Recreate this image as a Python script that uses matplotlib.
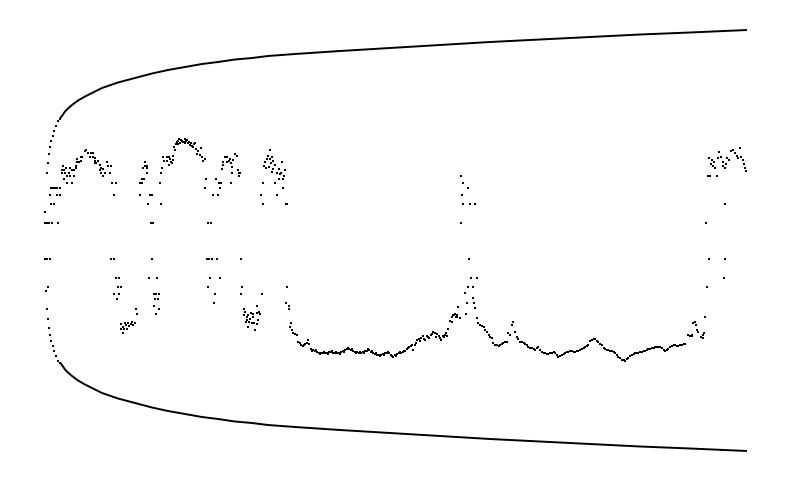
import matplotlib
matplotlib.use("Agg")
import matplotlib.pyplot as plt
import numpy as np

# ---- data: (step, value) readings of the test statistic ----
seg_start = [(45, 28), (45, 17), (47, 17), (49, 17), (52, 17), (58, 17), (45, -19), (47, -19), (50, -19),
             (48, -47), (46, -51), (51, 52), (53, 52), (55, 52), (57, 52), (60, 52), (50, 45), (57, 45),
             (60, 45), (51, 36), (54, 36)]

seg_hump1 = [(63, 74), (62, 70), (64, 70), (62, 67), (65, 67), (69, 67), (64, 61), (67, 64), (70, 64), (74, 64),
             (67, 57), (72, 57), (66, 72), (70, 72), (72, 70), (74, 70), (76, 74), (77, 78), (79, 78), (76, 72),
             (77, 81), (81, 83), (82, 83), (85, 89), (86, 90), (88, 87), (91, 87), (93, 87), (90, 83), (93, 83),
             (95, 82), (81, 79), (95, 79), (95, 77), (96, 77), (98, 79), (100, 75), (101, 72), (103, 71),
             (101, 67), (105, 67), (107, 78), (108, 74), (111, 74), (110, 67), (103, 64), (100, 70), (112, 57),
             (116, 57), (114, 45), (111, -19), (114, -19), (116, -38), (119, -38), (118, -47), (121, -47),
             (114, -54), (119, -54), (117, -59), (121, -84), (123, -87), (125, -83), (128, -83), (131, -84),
             (133, -85), (135, -83), (121, -89), (127, -89), (123, -93), (126, -85), (129, -86), (132, -82),
             (124, -89), (136, -69), (137, -74)]

seg_hump2 = [(140, 57), (142, 57), (142, 61), (144, 61), (143, 72), (147, 72), (145, 74), (147, 74), (145, 78),
             (147, 67), (140, 45), (150, 45), (152, 45), (148, 36), (161, 36), (151, 17), (153, 17), (152, -19),
             (149, -38), (157, -38), (154, -54), (156, -54), (159, -54), (155, -59), (158, -59), (154, -66),
             (159, -69), (156, -74), (160, 57), (161, 67), (162, 72), (163, 83), (167, 83), (169, 83), (170, 81),
             (164, 79), (167, 79), (171, 78), (172, 77), (169, 75), (173, 80), (173, 84), (174, 93), (175, 90),
             (177, 98), (180, 97), (182, 99), (184, 98), (187, 100), (188, 97), (190, 95), (192, 94), (194, 96),
             (195, 97), (176, 96), (178, 99), (179, 101), (181, 100), (183, 98), (185, 101), (186, 99), (189, 98),
             (191, 97), (193, 93), (178, 96), (185, 97), (196, 91), (198, 89), (201, 92), (197, 86), (200, 85),
             (202, 83), (203, 79), (205, 81), (206, 61), (205, 52), (213, 45), (218, 45), (216, 61), (219, 57),
             (221, 57), (220, 52), (208, 17), (211, 17), (207, -19), (209, -19), (212, -19), (217, -19),
             (210, -38), (220, -38), (208, -47), (215, -54), (214, -63)]

seg_hump3 = [(223, 78), (225, 83), (227, 83), (229, 79), (231, 77), (223, 75), (222, 71), (227, 78), (232, 73),
             (235, 86), (237, 84), (238, 70), (239, 67), (239, 64), (232, 67), (231, 57), (230, 81), (233, 80),
             (240, 67), (241, -19), (242, -47), (241, -54), (244, -69), (245, -72), (247, -77), (246, -82),
             (248, -87), (250, -79), (244, -75), (248, -75), (251, -73), (253, -74), (253, -77), (257, -73),
             (259, -72), (260, -74), (257, -66), (247, -80), (249, -82), (252, -83), (254, -83), (257, -84),
             (255, -90), (258, -80), (262, -54)]

seg_hump4 = [(270, 90), (268, 84), (267, 81), (270, 81), (272, 83), (265, 78), (273, 79), (264, 74), (266, 72),
             (271, 77), (269, 73), (273, 71), (272, 68), (275, 75), (277, 67), (279, 71), (280, 66), (282, 78),
             (281, 67), (284, 64), (285, 70), (279, 61), (283, 61), (275, 57), (263, 57), (283, 52), (261, 45),
             (277, 45), (263, 36), (286, 36), (287, 36), (287, -47), (286, -63), (289, -66), (289, -69),
             (291, -83), (290, -87), (292, -90), (293, -93), (295, -94), (297, -95), (298, -102), (301, -105),
             (303, -106), (305, -104), (307, -103), (308, -100), (309, -104), (300, -103), (304, -105)]

seg_floor1 = [(311, -109), (313, -110), (315, -111), (317, -112), (319, -113), (321, -113), (323, -113),
              (325, -113), (327, -113), (329, -112), (331, -112), (333, -113), (335, -113), (337, -113),
              (339, -113), (341, -112), (343, -111), (345, -110), (347, -109), (349, -109), (351, -110),
              (353, -111), (355, -112), (357, -112), (359, -113), (361, -113), (363, -112), (365, -111),
              (367, -111), (369, -110), (371, -112), (373, -113), (375, -114), (377, -115), (379, -115),
              (381, -115), (383, -114), (385, -113), (387, -113), (389, -113), (391, -115), (393, -117),
              (395, -115), (397, -114), (399, -113), (401, -113), (403, -112), (405, -111), (407, -109),
              (409, -107), (411, -106), (413, -110), (415, -105), (417, -100), (419, -99), (421, -98),
              (423, -96), (425, -100), (427, -96), (429, -98), (431, -95), (433, -92), (435, -93), (437, -94),
              (439, -96), (441, -100), (443, -96), (445, -95), (447, -96), (448, -89), (450, -81), (452, -77),
              (454, -75), (456, -77), (457, -75),
              (312, -111), (316, -110), (320, -114), (324, -112), (328, -114), (332, -111), (336, -112),
              (340, -114), (344, -112), (348, -108), (352, -109), (356, -113), (360, -112), (364, -113),
              (368, -109), (372, -111), (376, -113), (380, -116), (384, -115), (388, -112), (392, -116),
              (396, -116), (400, -112), (404, -111), (408, -108), (412, -105), (416, -103), (420, -101),
              (424, -99), (428, -97), (432, -94), (436, -97), (440, -98), (444, -97), (446, -93)]

seg_peak = [(458, -67), (460, -78), (457, -77), (453, -75), (455, -74), (452, -82), (448, -89), (461, 64),
            (463, 57), (468, 52), (462, 45), (463, 36), (470, 36), (475, 36), (461, 17), (469, -19), (471, -38),
            (477, -38), (468, -47), (473, -47), (465, -53), (467, -63), (473, -58), (474, -63), (475, -68),
            (466, -74)]

seg_floor2 = [(477, -78), (478, -83), (480, -85), (482, -86), (484, -87), (485, -90), (487, -92), (489, -95),
              (490, -97), (492, -98), (493, -103), (495, -105), (497, -105), (499, -106), (500, -105),
              (502, -104), (503, -103), (505, -102), (507, -102), (508, -93), (510, -95), (512, -85), (513, -82),
              (515, -92), (517, -97), (518, -99), (520, -102), (522, -102), (524, -103), (525, -104), (527, -105),
              (528, -107), (530, -108), (532, -108), (534, -109), (535, -110), (537, -108), (538, -107),
              (540, -110), (542, -112), (544, -113), (545, -113), (547, -114), (548, -114), (550, -113),
              (552, -113), (554, -112), (555, -113), (557, -115), (558, -117), (560, -116), (562, -115),
              (564, -114), (565, -113), (567, -112), (568, -112), (570, -111), (572, -111), (574, -112),
              (575, -112), (577, -111), (578, -111), (580, -110), (582, -109), (584, -108), (585, -107),
              (587, -106), (588, -105), (590, -101), (592, -100), (594, -99), (595, -99), (597, -101),
              (598, -102), (600, -104), (602, -105), (604, -108), (605, -109), (607, -110), (608, -110),
              (610, -111), (612, -111), (614, -112), (615, -113), (617, -115), (618, -117), (620, -118),
              (622, -120), (624, -120), (625, -121), (627, -119), (628, -118), (630, -116), (632, -115),
              (634, -114), (635, -113), (637, -113), (638, -113), (640, -112), (642, -112), (644, -111),
              (645, -111), (647, -110), (648, -109), (650, -109), (652, -108), (654, -108), (655, -107),
              (657, -107), (658, -107), (660, -107), (662, -108), (664, -110), (665, -111), (667, -110),
              (668, -109), (670, -107), (672, -106), (674, -105), (675, -105), (677, -106), (678, -106),
              (680, -105), (682, -105), (684, -104), (685, -104), (688, -95), (690, -96), (692, -96),
              (693, -83), (695, -82), (697, -90), (698, -92), (696, -85), (701, -97), (703, -98), (703, -95),
              (704, -93), (692, -95)]

seg_end = [(705, -77), (707, -47), (709, -19), (706, 17), (708, 64), (717, 64), (710, 64), (725, 36), (725, -19),
           (724, -38), (709, 82), (712, 80), (714, 78), (711, 76), (713, 74), (715, 72), (719, 88), (718, 82),
           (721, 83), (723, 78), (723, 74), (726, 76), (725, 72), (727, 82), (729, 80), (731, 89), (733, 90),
           (735, 87), (737, 84), (740, 92), (738, 82), (741, 83), (743, 80), (744, 76), (745, 72), (746, 69)]

# ---- envelope (half-width of the band around 0) ----
env_step = [47, 48, 49, 50, 51, 53, 54, 56, 58, 60, 63, 65, 68, 72, 78, 85, 93, 102, 118, 135, 152, 168, 185,
            202, 218, 235, 252, 268, 295, 340, 390, 440, 490, 540, 590, 640, 690, 747]
env_half = [68, 78, 87, 94, 100, 105, 110, 115, 120, 122, 126, 129, 132, 135.5, 140, 144, 148, 152.5, 158,
            162.5, 167, 170.5, 173.5, 176.5, 178.5, 181, 182.5, 184.5, 186.5, 189.5, 192.5, 195.5, 198.5, 201,
            203.5, 206, 208, 210.5]

segments = [seg_start, seg_hump1, seg_hump2, seg_hump3, seg_hump4, seg_floor1, seg_peak, seg_floor2, seg_end]
pts = np.array([p for seg in segments for p in seg], dtype=float)
steps, values = pts[:, 0], pts[:, 1]

env_step = np.array(env_step, dtype=float)
env_half = np.array(env_half, dtype=float)
center = -0.5

fig = plt.figure(figsize=(7.92, 4.82), dpi=100)
ax = fig.add_axes([0, 0, 1, 1])
ax.set_xlim(0, 792)
ax.set_ylim(-242, 240)
ax.axis("off")

ms = 1.6  # ~2 px square dots
ax.scatter(steps, values, marker="s", s=ms ** 2, c="black", linewidths=0, antialiased=False)

# envelope: dotted at the steep start, solid line afterwards
steep = env_step <= 60
ax.scatter(env_step[steep], center + env_half[steep], marker="s", s=ms ** 2, c="black", linewidths=0,
           antialiased=False)
ax.scatter(env_step[steep], center - env_half[steep], marker="s", s=ms ** 2, c="black", linewidths=0,
           antialiased=False)
line = env_step >= 60
ax.plot(env_step[line], center + env_half[line], color="black", lw=1.4, solid_capstyle="butt")
ax.plot(env_step[line], center - env_half[line], color="black", lw=1.4, solid_capstyle="butt")

fig.savefig("out.png", dpi=100, facecolor="white")
